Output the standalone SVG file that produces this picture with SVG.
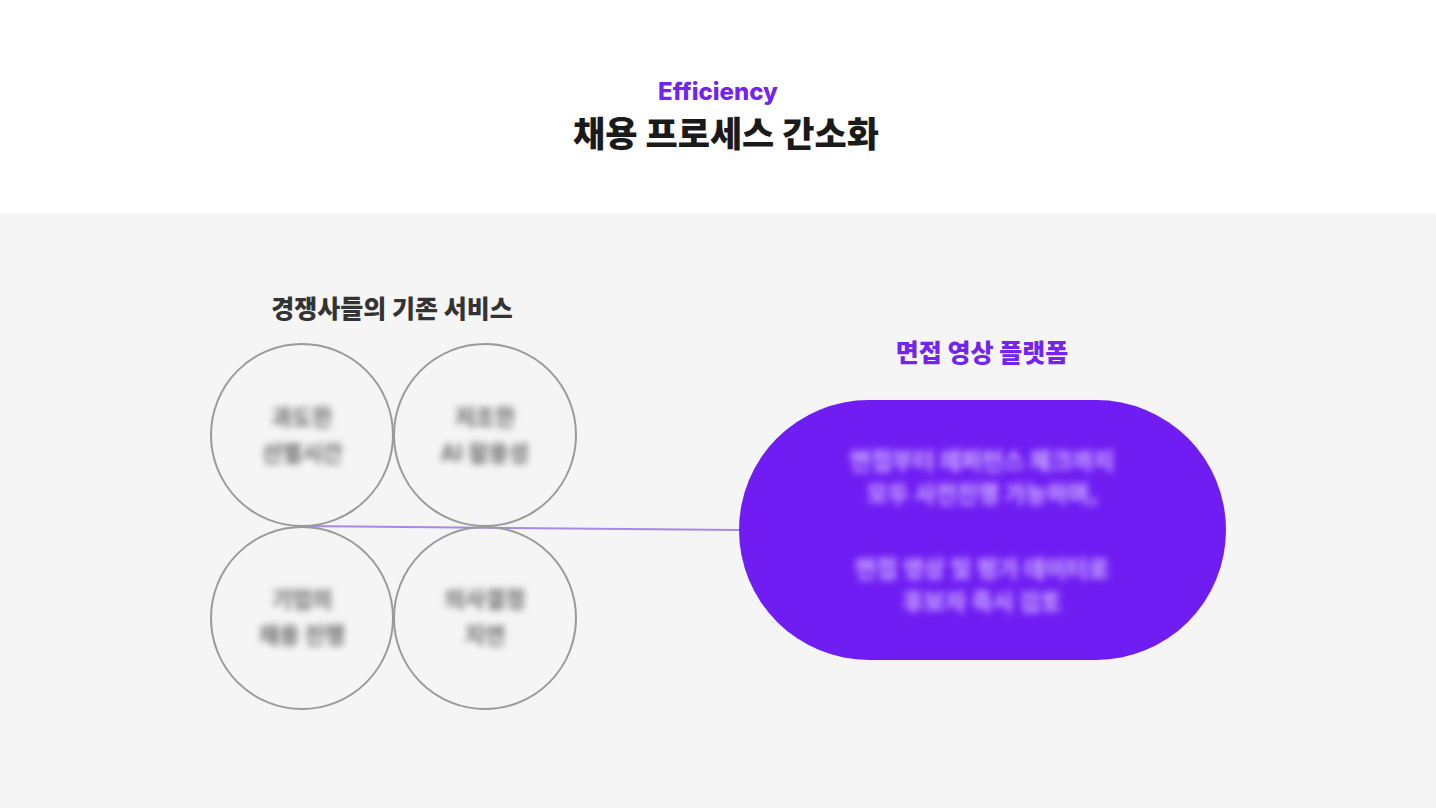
<svg xmlns="http://www.w3.org/2000/svg" width="1436" height="808" viewBox="0 0 1436 808">
<style>
.kr{font-family:"Noto Sans CJK KR","Noto Sans",sans-serif;font-weight:700;text-anchor:middle}
.circ{fill:none;stroke:#9a9a9a;stroke-width:2}
.ctext{font-size:22px;fill:#7a7a7a;font-weight:900}
.ptext{font-size:23px;fill:#c4a0ff;font-weight:900}
</style>
<defs>
<filter id="blur" x="-20%" y="-50%" width="140%" height="200%"><feGaussianBlur stdDeviation="3.5"/></filter>
</defs>
<rect x="0" y="0" width="1436" height="808" fill="#ffffff"/>
<rect x="0" y="213" width="1436" height="595" fill="#f5f5f5"/>
<g id="header">
<text class="kr" x="718" y="100" font-size="24" fill="#7424f0" style="font-family:Inter,'Noto Sans',sans-serif;font-weight:800">Efficiency</text>
<text class="kr" x="726" y="147" font-size="35" fill="#1a1a1a" style="font-weight:900">채용 프로세스 간소화</text>
</g>
<g id="competitors-label"><text class="kr" x="392" y="318" font-size="25" fill="#333333" style="font-weight:900">경쟁사들의 기존 서비스</text></g>
<g id="platform-label"><text class="kr" x="982" y="362" font-size="25" fill="#7424f0" style="font-weight:900">면접 영상 플랫폼</text></g>
<g id="connectors">
<line x1="302" y1="526" x2="740" y2="530" stroke="#a58ae6" stroke-width="2"/>
</g>
<g id="circle-1"><circle class="circ" cx="302" cy="435" r="91"/>
<g class="kr ctext" filter="url(#blur)"><text x="302" y="425">과도한</text><text x="302" y="461">선별시간</text></g></g>
<g id="circle-2"><circle class="circ" cx="485" cy="435" r="91"/>
<g class="kr ctext" filter="url(#blur)"><text x="485" y="425">저조한</text><text x="485" y="461">AI 활용성</text></g></g>
<g id="circle-3"><circle class="circ" cx="302" cy="618" r="91"/>
<g class="kr ctext" filter="url(#blur)"><text x="302" y="607">기업의</text><text x="302" y="643">채용 진행</text></g></g>
<g id="circle-4"><circle class="circ" cx="485" cy="618" r="91"/>
<g class="kr ctext" filter="url(#blur)"><text x="485" y="607">의사결정</text><text x="485" y="643">지연</text></g></g>
<g id="platform">
<rect x="739" y="400" width="487" height="260" rx="130" ry="130" fill="#6f1df2"/>
<g class="kr ptext" filter="url(#blur)">
<text x="982" y="469">면접부터 레퍼런스 체크까지</text>
<text x="982" y="502">모두 사전진행 가능하며,</text>
<text x="982" y="577">면접 영상 및 평가 데이터로</text>
<text x="982" y="610">후보자 즉시 검토</text>
</g>
</g>
</svg>
